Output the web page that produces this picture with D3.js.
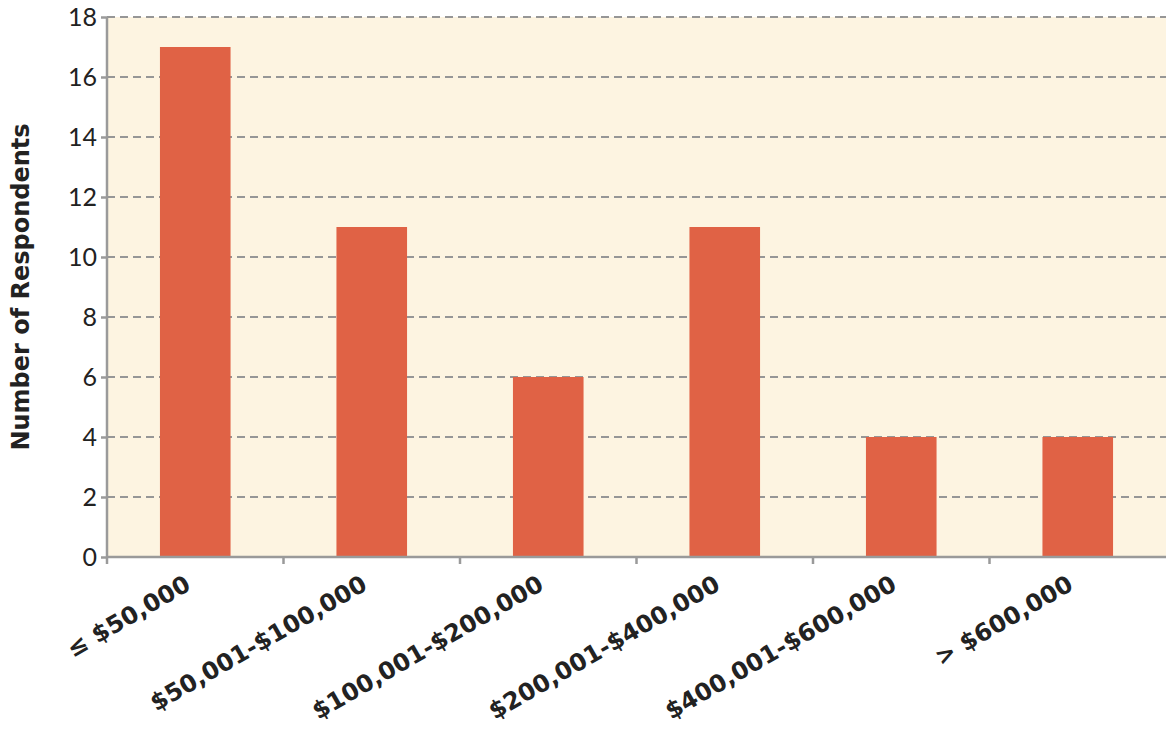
<!DOCTYPE html>
<html>
<head>
<meta charset="utf-8">
<script src="https://cdn.jsdelivr.net/npm/d3@7"></script>
<style>
  body { margin: 0; background: #fff; }
  svg { display: block; }
</style>
</head>
<body>
<div id="chart"></div>
<script>
// data
const categories = ["≤ $50,000", "$50,001-$100,000", "$100,001-$200,000", "$200,001-$400,000", "$400,001-$600,000", "> $600,000"];
const counts = [17, 11, 6, 11, 4, 4];
const yTicks = [0, 2, 4, 6, 8, 10, 12, 14, 16, 18];

const width = 1166, height = 730;
const margin = {top: 17, right: 0, bottom: 173, left: 107};
const innerW = width - margin.left - margin.right;
const innerH = height - margin.top - margin.bottom;

const svg = d3.select("#chart").append("svg")
    .attr("width", width)
    .attr("height", height);

const g = svg.append("g").attr("transform", `translate(${margin.left},${margin.top})`);

const x = d3.scaleBand().domain(categories).range([0, innerW]).padding(0);
const y = d3.scaleLinear().domain([0, 18]).range([innerH, 0]);

// background
g.append("rect")
    .attr("width", innerW)
    .attr("height", innerH)
    .attr("fill", "#fdf4e1");

// gridlines
g.selectAll(".grid")
    .data(yTicks.filter(d => d > 0))
    .enter().append("line")
    .attr("x1", 0).attr("x2", innerW)
    .attr("y1", d => y(d)).attr("y2", d => y(d))
    .attr("stroke", "#969696")
    .attr("stroke-width", 2.2)
    .attr("stroke-dasharray", "8,5");

// bars
const barW = x.bandwidth() * 0.4;
g.selectAll(".bar")
    .data(counts)
    .enter().append("rect")
    .attr("x", (d, i) => x(categories[i]) + (x.bandwidth() - barW) / 2)
    .attr("y", d => y(d))
    .attr("width", barW)
    .attr("height", d => innerH - y(d))
    .attr("fill", "#e06245");

// y axis
const yAxis = g.append("g")
    .call(d3.axisLeft(y).tickValues(yTicks).tickSize(6).tickPadding(4));
yAxis.select(".domain").attr("stroke", "#9a9a9a").attr("stroke-width", 2.5).attr("d", `M0,${innerH}V0`);
yAxis.selectAll(".tick line").attr("stroke", "#9a9a9a").attr("stroke-width", 2.5);
yAxis.selectAll("text")
    .attr("font-family", "Lato, 'Open Sans', sans-serif")
    .attr("font-size", 25)
    .attr("fill", "#222");

// x axis
const xTickPos = d3.range(categories.length).map(i => i * x.step());
const xAxis = g.append("g").attr("transform", `translate(0,${innerH})`);
xAxis.append("line")
    .attr("x1", 0).attr("x2", innerW)
    .attr("stroke", "#9a9a9a").attr("stroke-width", 2.5);
xAxis.selectAll(".xt")
    .data(xTickPos)
    .enter().append("line")
    .attr("x1", d => d).attr("x2", d => d)
    .attr("y1", 0).attr("y2", 7)
    .attr("stroke", "#9a9a9a").attr("stroke-width", 2.5);
xAxis.selectAll(".xl")
    .data(categories)
    .enter().append("text")
    .attr("transform", d => `translate(${x(d) + x.bandwidth() / 2 - 3},${32}) rotate(-30)`)
    .attr("text-anchor", "end")
    .attr("font-family", "'DejaVu Sans', sans-serif")
    .attr("font-weight", "bold")
    .attr("font-size", 24)
    .attr("fill", "#222")
    .text(d => d);

// y title
svg.append("text")
    .attr("transform", `translate(29,${margin.top + innerH / 2}) rotate(-90)`)
    .attr("text-anchor", "middle")
    .attr("font-family", "'DejaVu Sans', sans-serif")
    .attr("font-weight", "bold")
    .attr("font-size", 24)
    .attr("fill", "#222")
    .text("Number of Respondents");
</script>
</body>
</html>
